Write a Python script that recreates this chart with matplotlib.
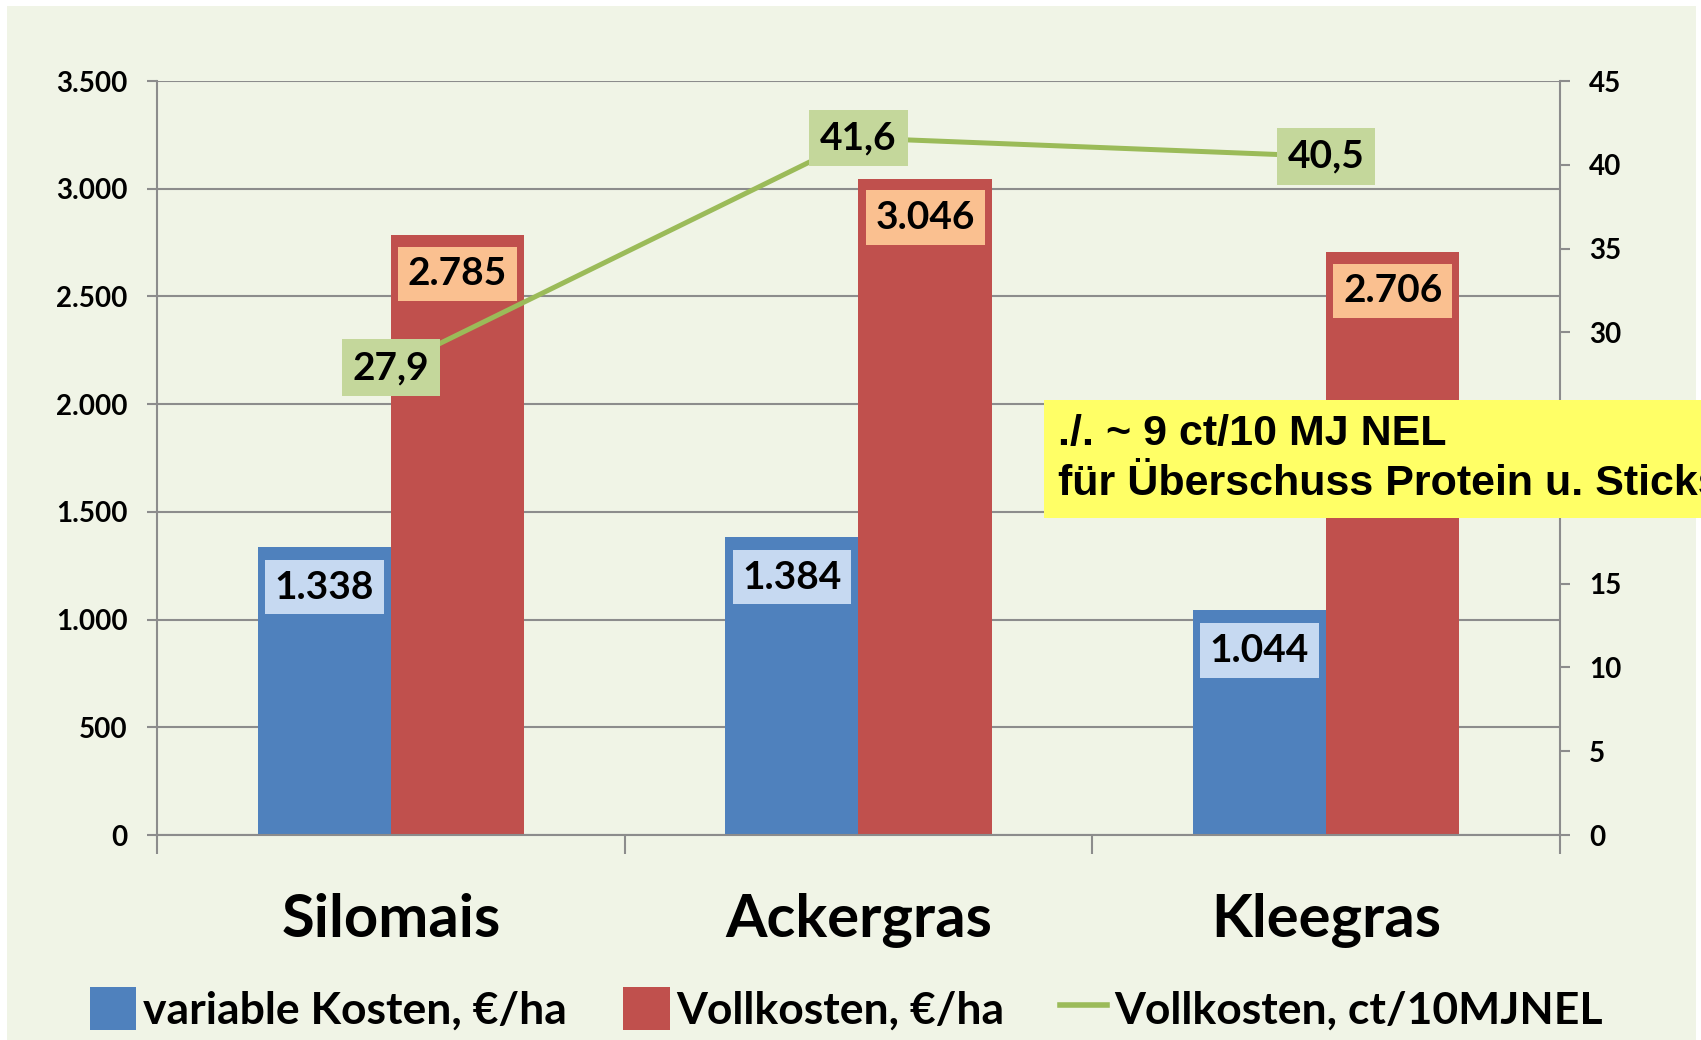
import matplotlib
matplotlib.use("Agg")
import matplotlib.pyplot as plt
import numpy as np
from matplotlib.lines import Line2D
from matplotlib.patches import Patch

categories = ["Silomais", "Ackergras", "Kleegras"]
variable_kosten = [1338, 1384, 1044]
vollkosten_ha = [2785, 3046, 2706]
vollkosten_nel = [27.9, 41.6, 40.5]

left_ticks = [0, 500, 1000, 1500, 2000, 2500, 3000, 3500]
right_ticks = [0, 5, 10, 15, 20, 25, 30, 35, 40, 45]
# 20 and 25 sit behind the yellow note in the original
right_hidden = [20, 25]

BG = "#F0F4E6"
BLUE = "#4F81BD"
RED = "#C0504D"
GREEN = "#9BBB59"
GRID = "#8C8C8C"

FONT = "Lato"


def de_num(v):
    return f"{v:,}".replace(",", ".")


fig = plt.figure(figsize=(17.01, 10.40), dpi=100)
fig.patch.set_facecolor("white")
fig.patches.append(plt.Rectangle((0.004, 0.0), 0.993, 0.994, transform=fig.transFigure,
                                 facecolor=BG, edgecolor="none", zorder=-10))

ax = fig.add_axes([0.0923, 0.1971, 0.8248, 0.7250])
ax.set_facecolor("none")
ax2 = ax.twinx()

x = np.arange(len(categories))
w = 0.285
ax.bar(x - w / 2, variable_kosten, w, color=BLUE, zorder=2)
ax.bar(x + w / 2, vollkosten_ha, w, color=RED, zorder=2)

ax.set_xlim(-0.5, len(categories) - 0.5)
ax.set_ylim(0, 3500)
ax.set_yticks(left_ticks)
ax.set_yticklabels([de_num(v) for v in left_ticks])
ax.grid(axis="y", color=GRID, linewidth=1.5, zorder=0)
ax.set_axisbelow(True)

ax.set_xticks(np.arange(-0.5, len(categories), 1.0))
ax.set_xticklabels([])
ax.tick_params(axis="x", which="major", direction="out", length=14, width=1.5, color=GRID)
ax.tick_params(axis="y", direction="out", length=7, width=1.5, color=GRID,
               pad=14, labelsize=20)
for lab in ax.get_yticklabels():
    lab.set_fontweight("bold")
    lab.set_family(FONT)

for c, name in zip(x, categories):
    ax.text(c, -0.113, name, transform=ax.get_xaxis_transform(), ha="center", va="center",
            fontsize=43, fontweight="bold", family=FONT)

ax.spines["top"].set_visible(False)
ax2.spines["top"].set_visible(False)
for s in ["left", "bottom"]:
    ax.spines[s].set_color(GRID)
    ax.spines[s].set_linewidth(1.5)
ax.spines["right"].set_visible(False)
ax2.spines["left"].set_visible(False)
ax2.spines["bottom"].set_visible(False)
ax2.spines["right"].set_color(GRID)
ax2.spines["right"].set_linewidth(1.5)

# bar value labels
for xi, v in zip(x - w / 2, variable_kosten):
    ax.annotate(de_num(v), (xi, v), xytext=(0, -29), textcoords="offset points",
                ha="center", va="center", fontsize=28, fontweight="bold", family=FONT, zorder=5,
                bbox=dict(boxstyle="square,pad=0.25", facecolor="#C6D9F1", edgecolor="none"))
for xi, v in zip(x + w / 2, vollkosten_ha):
    ax.annotate(de_num(v), (xi, v), xytext=(0, -28), textcoords="offset points",
                ha="center", va="center", fontsize=28, fontweight="bold", family=FONT, zorder=5,
                bbox=dict(boxstyle="square,pad=0.25", facecolor="#FAC090", edgecolor="none"))

# line on secondary axis
ax2.plot(x, vollkosten_nel, color=GREEN, linewidth=3.6, zorder=4)
ax2.set_ylim(0, 45)
ax2.set_yticks(right_ticks)
ax2.set_yticklabels(["" if t in right_hidden else str(t) for t in right_ticks])
ax2.tick_params(axis="y", direction="out", length=7, width=1.5, color=GRID,
                pad=14, labelsize=20)
for lab in ax2.get_yticklabels():
    lab.set_fontweight("bold")
    lab.set_family(FONT)
for xi, v in zip(x, vollkosten_nel):
    ax2.text(xi, v, f"{v:.1f}".replace(".", ","), ha="center", va="center",
             fontsize=28, fontweight="bold", family=FONT, zorder=6,
             bbox=dict(boxstyle="square,pad=0.28", facecolor="#C4D79B", edgecolor="none"))

# yellow note (runs off the right edge, as in the original slide)
fig.text(1058 / 1701, 1 - 459 / 1040, "./. ~ 9 ct/10 MJ NEL\nfür Überschuss Protein u. Stickstoff",
         ha="left", va="center", fontsize=31, fontweight="bold", family="Liberation Sans",
         linespacing=1.3, zorder=10,
         bbox=dict(boxstyle="square,pad=0.33", facecolor="#FFFF66", edgecolor="none"))

handles = [Patch(facecolor=BLUE, edgecolor="none"),
           Patch(facecolor=RED, edgecolor="none"),
           Line2D([0], [0], color=GREEN, linewidth=4)]
labels = ["variable Kosten, €/ha", "Vollkosten, €/ha", "Vollkosten, ct/10MJNEL"]
fig.legend(handles, labels, loc="center", bbox_to_anchor=(0.4975, 0.030), ncol=3,
           frameon=False, prop=dict(family=FONT, weight="bold", size=32),
           handlelength=1.05, handleheight=1.1, handletextpad=0.16, columnspacing=1.25)

fig.savefig("out.png", dpi=100, facecolor="white")
